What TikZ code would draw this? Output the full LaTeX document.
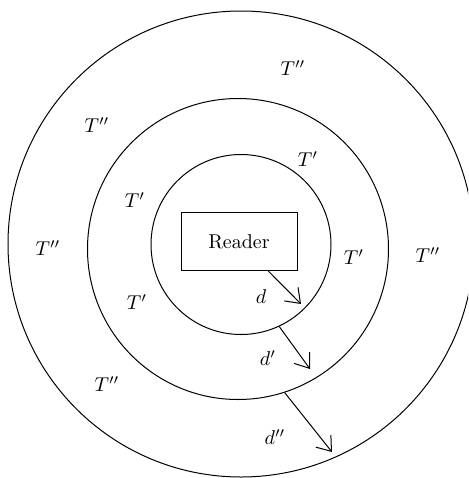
\documentclass[tikz,border=0pt]{standalone}
\usepackage{amsmath}
\usepackage{tikz}
\usetikzlibrary{arrows.meta,positioning,calc}
\tikzset{
    ring/.style={
        draw,
        circle,
        inner sep=0pt,
        line width=0.5pt
    },
    box/.style={
        draw,
        minimum width=58pt,
        minimum height=29pt,
        line width=0.5pt
    },
    arrow/.style={
        -{Straight Barb[length=2.3mm,width=3.4mm]},
        line width=0.5pt
    },
    lbl/.style={inner sep=1pt}
}

\begin{document}
\begin{tikzpicture}[x=0.5pt,y=-0.5pt]
\useasboundingbox (0,0) rectangle (468,478);
\clip (0,0) rectangle (468,478);

\node[ring, minimum size=233pt] (outer) at (241,244) {};
\node[ring, minimum size=150.5pt] (mid) at (238,249) {};
\node[ring, minimum size=90pt] (inner) at (241,244.5) {};

\node[box] (reader) at (239,241.5) {Reader};

% T' and T'' labels
\node[lbl] (tp1) at (308,159) {$T'$};
\node[lbl] (tp2) at (135,200) {$T'$};
\node[lbl] (tp3) at (354,257) {$T'$};
\node[lbl] (tp4) at (137,302) {$T'$};
\node[lbl] (tpp1) at (293,68) {$T''$};
\node[lbl] (tpp2) at (97,125) {$T''$};
\node[lbl] (tpp3) at (48,248) {$T''$};
\node[lbl] (tpp4) at (428,255) {$T''$};
\node[lbl] (tpp5) at (107,384) {$T''$};

% distance arrows
\coordinate (dtip) at (301,304);
\coordinate (dptip) at (310,369);
\coordinate (dpptip) at (332,452);

\draw[arrow] ($(reader.south west)!0.75!(reader.south east)$) -- (dtip);
\draw[arrow] (inner.-65) -- (dptip);
\draw[arrow] (mid.-72) -- (dpptip);

\node[lbl] (d) at (261,297) {$d$};
\node[lbl] (dp) at (268,358) {$d'$};
\node[lbl] (dpp) at (275,437) {$d''$};

\end{tikzpicture}
\end{document}
